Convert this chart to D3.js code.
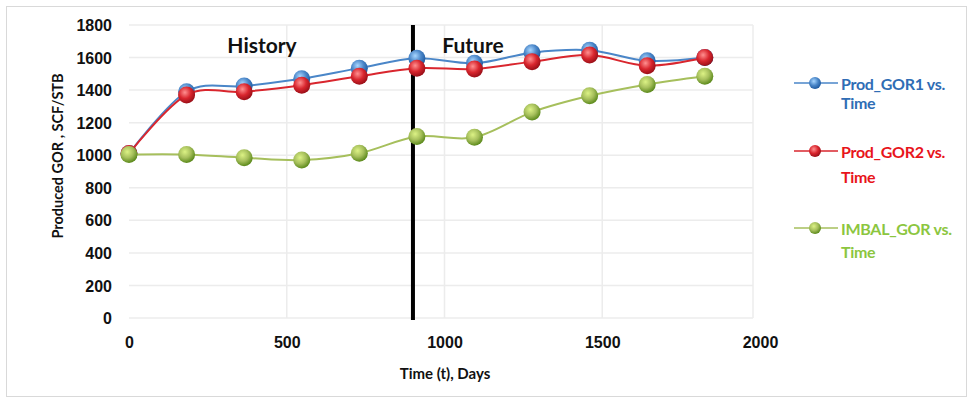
<!DOCTYPE html>
<html><head><meta charset="utf-8">
<script src="https://cdn.jsdelivr.net/npm/d3@7"></script>
<style>
body{margin:0;background:#fff;}
svg{display:block;font-family:Lato,"Open Sans",sans-serif;}
</style></head>
<body><svg id="c" width="973" height="400"></svg>
<script>
const days = [0, 182.5, 365, 547.5, 730, 912.5, 1095, 1277.5, 1460, 1642.5, 1825];
const prodGOR1 = [1010, 1390, 1425, 1470, 1535, 1595, 1565, 1630, 1645, 1580, 1600];
const prodGOR2 = [1010, 1370, 1390, 1430, 1485, 1535, 1530, 1575, 1615, 1550, 1600];
const imbalGOR = [1005, 1005, 985, 970, 1012, 1115, 1110, 1265, 1365, 1435, 1485];
const xTicks = [0, 500, 1000, 1500, 2000];
const yTicks = [0, 200, 400, 600, 800, 1000, 1200, 1400, 1600, 1800];
const historyEnd = 900;
const seriesNames = ["Prod_GOR1 vs. Time", "Prod_GOR2 vs. Time", "IMBAL_GOR vs. Time"];
const lineColors = ["#4a86c8", "#d9262e", "#a6bf5c"];
const textColors = ["#2f6db5", "#e8141b", "#8cc63f"];
const ballLight = ["#a8d6ff", "#ff9090", "#dcf285"];
const ballDark = ["#1f5aa0", "#9a0f18", "#5c8a1c"];
const allSeries = [prodGOR1, prodGOR2, imbalGOR];

const svg = d3.select("#c");
svg.append("rect").attr("x",6.5).attr("y",6.5).attr("width",960).attr("height",390)
  .attr("fill","#fff").attr("stroke","#d9d9d9").attr("stroke-width",1);

const x = d3.scaleLinear().domain([0,2000]).range([129,760]);
const y = d3.scaleLinear().domain([0,1800]).range([318,25]);

const defs = svg.append("defs");
allSeries.forEach((s,i)=>{
  const g = defs.append("radialGradient").attr("id","ball"+i)
    .attr("cx","40%").attr("cy","35%").attr("r","65%");
  g.append("stop").attr("offset","0%").attr("stop-color",ballLight[i]);
  g.append("stop").attr("offset","55%").attr("stop-color",lineColors[i]);
  g.append("stop").attr("offset","100%").attr("stop-color",ballDark[i]);
});

// gridlines
svg.append("g").selectAll("line").data(yTicks).join("line")
  .attr("x1",x(0)).attr("x2",753).attr("y1",d=>y(d)).attr("y2",d=>y(d))
  .attr("stroke","#ececec").attr("stroke-width",1.5);
svg.append("g").selectAll("line").data(xTicks.filter(d=>d>0 && d<2000)).join("line")
  .attr("x1",d=>x(d)).attr("x2",d=>x(d)).attr("y1",y(1800)).attr("y2",y(0))
  .attr("stroke","#ececec").attr("stroke-width",1.5);
svg.append("line").attr("x1",753).attr("x2",753).attr("y1",y(1800)).attr("y2",y(0))
  .attr("stroke","#ececec").attr("stroke-width",1.5);

// axes labels
const yAxis = d3.axisLeft(y).tickValues(yTicks).tickFormat(d3.format("d")).tickSize(0).tickPadding(0);
const ya = svg.append("g").attr("transform","translate(112,0)").call(yAxis);
ya.select(".domain").remove();
ya.selectAll("text").attr("font-size",16).attr("font-weight","bold").attr("fill","#111").attr("dy","0.35em");

const xAxis = d3.axisBottom(x).tickValues(xTicks).tickFormat(d3.format("d")).tickSize(0).tickPadding(0);
const xa = svg.append("g").attr("transform","translate(0,337)").call(xAxis);
xa.select(".domain").remove();
xa.selectAll("text").attr("font-size",16).attr("font-weight","bold").attr("fill","#111");

svg.append("text").attr("x",445).attr("y",379).attr("text-anchor","middle")
  .attr("font-size",15).attr("font-weight","bold").attr("fill","#111").text("Time (t), Days");
svg.append("text").attr("transform","translate(63,156) rotate(-90)").attr("text-anchor","middle")
  .attr("font-size",14.5).attr("font-weight","bold").attr("fill","#111").text("Produced GOR , SCF/STB");

// history/future divider
svg.append("line").attr("x1",x(historyEnd)).attr("x2",x(historyEnd)).attr("y1",y(1800)).attr("y2",y(0)+2)
  .attr("stroke","#000").attr("stroke-width",4);
svg.append("text").attr("x",262).attr("y",53).attr("text-anchor","middle")
  .attr("font-size",21).attr("font-weight","bold").attr("fill","#111").text("History");
svg.append("text").attr("x",473).attr("y",53).attr("text-anchor","middle")
  .attr("font-size",21).attr("font-weight","bold").attr("fill","#111").text("Future");

// series
const line = d3.line().x((d,j)=>x(days[j])).y(d=>y(d)).curve(d3.curveCatmullRom.alpha(0));
[0,1,2].forEach(i=>{
  const s = allSeries[i];
  svg.append("path").datum(s).attr("d",line).attr("fill","none")
    .attr("stroke",lineColors[i]).attr("stroke-width",2);
  svg.append("g").selectAll("circle").data(s).join("circle")
    .attr("cx",(d,j)=>x(days[j])).attr("cy",d=>y(d)).attr("r",8.5)
    .attr("fill","url(#ball"+i+")");
});

// legend
const legY = [[83,103],[151,177],[228,252]];
seriesNames.forEach((n,i)=>{
  const g = svg.append("g");
  g.append("line").attr("x1",794).attr("x2",838).attr("y1",legY[i][0]).attr("y2",legY[i][0])
    .attr("stroke",lineColors[i]).attr("stroke-width",1.5);
  g.append("circle").attr("cx",815).attr("cy",legY[i][0]).attr("r",6).attr("fill","url(#ball"+i+")");
  const parts = n.split(" vs. ");
  g.append("text").attr("x",841).attr("y",legY[i][0]+1).attr("dy","0.35em")
    .attr("font-size",16).attr("font-weight","bold").attr("fill",textColors[i]).attr("letter-spacing",-0.3)
    .text(parts[0]+" vs.");
  g.append("text").attr("x",841).attr("y",legY[i][1]).attr("dy","0.35em")
    .attr("font-size",16).attr("font-weight","bold").attr("fill",textColors[i]).attr("letter-spacing",-0.3)
    .text(parts[1]);
});
</script></body></html>
